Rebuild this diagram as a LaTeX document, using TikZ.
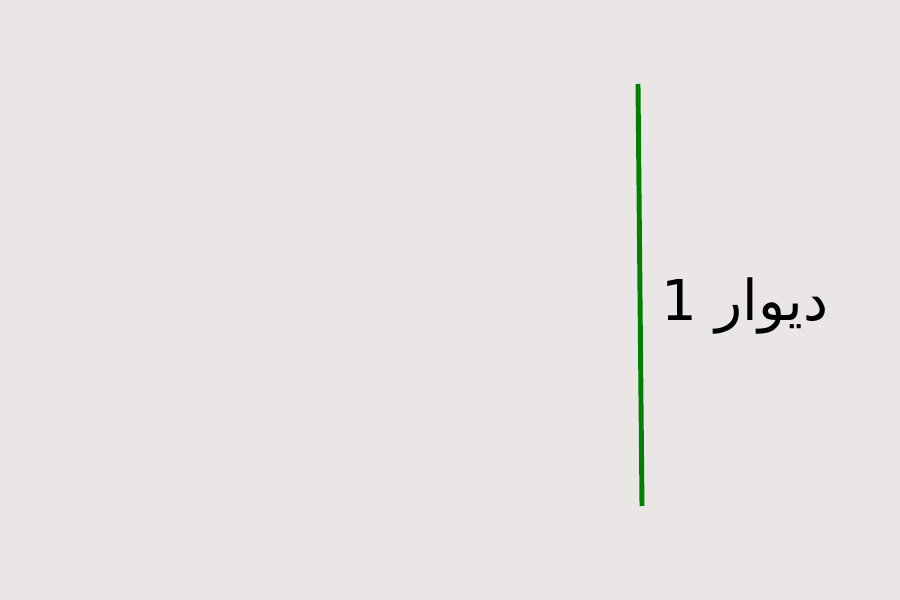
\documentclass[tikz,border=0pt]{standalone}
\usepackage{fontspec}
\newfontfamily\arabicfont[Script=Arabic]{DejaVu Sans}
\TeXXeTstate=1
\usepackage{tikz}
\definecolor{bgcol}{RGB}{233,230,229}
\definecolor{wallcol}{RGB}{0,128,0}

\begin{document}
\begin{tikzpicture}
					\fill[bgcol] (0,0) rectangle (9,6);
					\useasboundingbox (0,0) rectangle (9,6);
					\coordinate (w1top) at (6.38,5.16);
					\coordinate (w1bot) at (6.42,0.94);
					\draw[wallcol,line width=1.4pt] (w1top) -- (w1bot);
					\node[inner sep=0pt] at (7.45,2.94) (w1label) {\fontsize{16}{19}\selectfont\arabicfont\beginR دیوار 1\endR};
				\end{tikzpicture}
\end{document}
